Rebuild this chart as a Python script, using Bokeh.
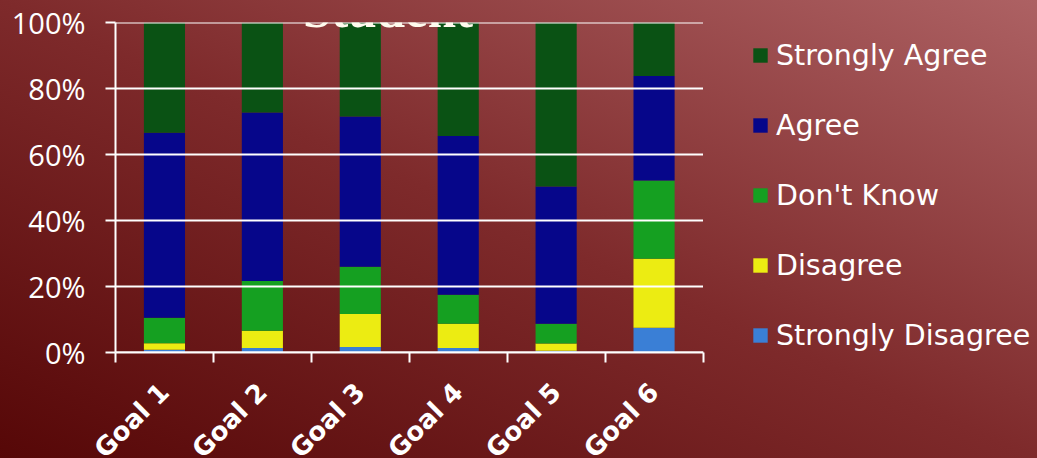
from bokeh.plotting import figure
from bokeh.models import (FixedTicker, NumeralTickFormatter, Legend, LegendItem,
                          Label, Range1d)
from bokeh.embed import file_html
from bokeh.resources import INLINE
import math

categories = ["Goal 1", "Goal 2", "Goal 3", "Goal 4", "Goal 5", "Goal 6"]
strongly_disagree = [0.008, 0.014, 0.017, 0.014, 0.005, 0.075]
disagree          = [0.020, 0.052, 0.100, 0.073, 0.022, 0.209]
dont_know         = [0.077, 0.151, 0.143, 0.088, 0.060, 0.237]
agree             = [0.561, 0.510, 0.455, 0.481, 0.416, 0.317]
strongly_agree    = [0.334, 0.273, 0.285, 0.344, 0.497, 0.162]
series_names = ["Strongly Disagree", "Disagree", "Don't Know", "Agree", "Strongly Agree"]
colors = ["#3a7fd6", "#ecec12", "#15a021", "#06068a", "#0a5214"]
y_ticks = [0, 0.2, 0.4, 0.6, 0.8, 1.0]

xs = list(range(1, len(categories) + 1))
data = dict(x=xs, sd=strongly_disagree, d=disagree, dk=dont_know, a=agree, sa=strongly_agree)
keys = ["sd", "d", "dk", "a", "sa"]
x_lo, x_hi = 0.5, len(categories) + 0.5

# frame spans to the right edge so that the legend lives inside it
p = figure(frame_width=922, frame_height=330, output_backend="svg", toolbar_location=None,
           x_range=Range1d(x_lo, 9.916), y_range=Range1d(0, 1),
           min_border_left=115, min_border_right=0, min_border_top=22, min_border_bottom=106)
p.styles = {"background": "linear-gradient(to top right, #560707 0%, #7e2a2b 50%, #ad6163 100%)",
            "overflow": "hidden", "max-height": "458px"}
p.background_fill_alpha = 0
p.border_fill_alpha = 0
p.outline_line_color = None

renderers = p.vbar_stack(keys, x="x", width=0.42, color=colors, line_color=None, source=data)

# horizontal gridlines limited to the category area
p.segment(x0=x_lo, x1=x_hi, y0=y_ticks, y1=y_ticks, line_color="white", line_width=2)
p.xgrid.visible = False
p.ygrid.visible = False

p.xaxis.bounds = (x_lo, x_hi)
p.xaxis.ticker = FixedTicker(ticks=xs, minor_ticks=[i + 0.5 for i in range(len(categories) + 1)])
p.xaxis.major_label_overrides = {x: c for x, c in zip(xs, categories)}
p.xaxis.major_tick_out = 0
p.xaxis.major_tick_in = 0
p.xaxis.minor_tick_out = 10
p.xaxis.minor_tick_in = 0
p.xaxis.minor_tick_line_color = "white"
p.xaxis.minor_tick_line_width = 2
p.xaxis.axis_line_color = "white"
p.xaxis.axis_line_width = 2
p.xaxis.major_label_orientation = math.pi / 4
p.xaxis.major_label_text_color = "white"
p.xaxis.major_label_text_font = "DejaVu Sans"
p.xaxis.major_label_text_font_style = "bold"
p.xaxis.major_label_text_font_size = "26px"
p.xaxis.major_label_standoff = 25

p.yaxis.ticker = FixedTicker(ticks=y_ticks, minor_ticks=[])
p.yaxis.formatter = NumeralTickFormatter(format="0%")
p.yaxis.axis_line_color = "white"
p.yaxis.axis_line_width = 2
p.yaxis.major_tick_line_color = "white"
p.yaxis.major_tick_line_width = 2
p.yaxis.major_tick_out = 10
p.yaxis.major_tick_in = 0
p.yaxis.major_label_standoff = 20
p.yaxis.major_label_text_color = "white"
p.yaxis.major_label_text_font = "Open Sans"
p.yaxis.major_label_text_font_size = "29px"

title = Label(x=3.283, y=1.038, text="Student", text_align="center", text_baseline="alphabetic",
              text_color="#fffbee", text_font="Liberation Serif", text_font_style="bold",
              text_font_size="51px")
p.add_layout(title)

items = [LegendItem(label=n, renderers=[r]) for n, r in zip(series_names, renderers)][::-1]
legend = Legend(items=items, location=(636, -18), orientation="vertical",
                glyph_width=18, glyph_height=18, label_height=70, spacing=0,
                padding=0, margin=0, label_standoff=7,
                label_text_color="white", label_text_font="DejaVu Sans",
                label_text_font_size="28.5px", border_line_alpha=0,
                background_fill_alpha=0)
p.add_layout(legend)

open("out.html", "w").write(file_html(p, INLINE))
